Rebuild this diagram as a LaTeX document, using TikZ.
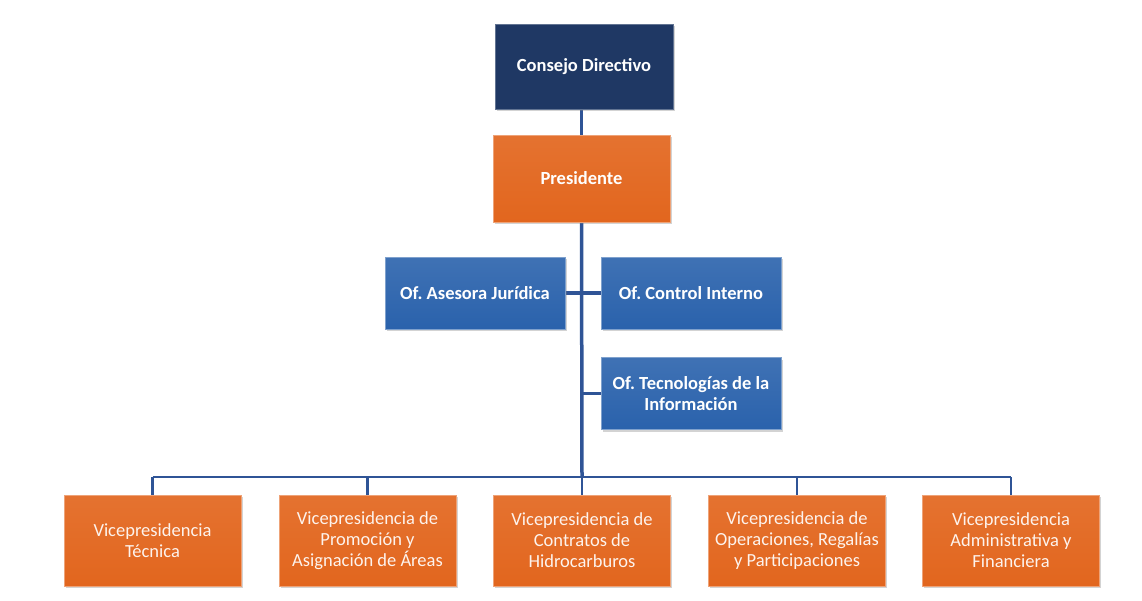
\documentclass[tikz,border=0pt]{standalone}
\usepackage{fontspec}
\setmainfont{Carlito}
\usepackage{xcolor}
\usetikzlibrary{shadows,backgrounds}

\definecolor{navy}{HTML}{1F3864}
\definecolor{naranja}{HTML}{E2661E}
\definecolor{azul}{HTML}{2A62AC}
\definecolor{linea}{HTML}{2F5496}

\begin{document}
\begin{tikzpicture}[x=1pt, y=-1pt,
    box/.style = {shape=rectangle, align=center, text=white,
      line width=0.8pt, inner sep=2pt,
      font=\fontsize{18.5}{21}\selectfont,
      drop shadow={opacity=0.35, shadow xshift=1.5pt, shadow yshift=-2pt}},
    navybox/.style = {box, font=\fontsize{18.5}{21}\selectfont\bfseries,
      fill=navy, draw=navy!70!white,
      minimum width=178pt, minimum height=85pt},
    orangebox/.style = {box, font=\fontsize{18.5}{21}\selectfont\bfseries,
      top color=naranja!92!white, bottom color=naranja, draw=naranja!60!white,
      minimum width=177pt, minimum height=87pt},
    bluebox/.style = {box, font=\fontsize{18.5}{21}\selectfont\bfseries,
      top color=azul!90!white, bottom color=azul, draw=azul!60!white,
      minimum width=180pt, minimum height=72pt},
    vicebox/.style = {box, text=white!92!naranja,
      top color=naranja!92!white, bottom color=naranja, draw=naranja!60!white,
      minimum width=177pt, minimum height=91pt},
    link/.style = {draw=linea, line width=3.5pt},
    branch/.style = {draw=linea, line width=2.5pt}]
  \useasboundingbox (0,0) rectangle (1142,600);

  % direccion
  \node[navybox] (consejo) at (584,66.5) {Consejo Directivo};
  \node[orangebox] (presidente) at (581.5,178.5) {Presidente};

  % oficinas
  \node[bluebox] (juridica) at (475,293) {Of.\ Asesora Jurídica};
  \node[bluebox] (control) at (691,293) {Of.\ Control Interno};
  \node[bluebox] (tecno) at (691,393.5) {Of.\ Tecnologías de la\\Información};

  % vicepresidencias
  \node[vicebox] (vp1) at (152.5,540.5) {Vicepresidencia\\Técnica};
  \node[vicebox] (vp2) at (367.5,540.5) {Vicepresidencia de\\Promoción y\\Asignación de Áreas};
  \node[vicebox] (vp3) at (582,540.5) {Vicepresidencia de\\Contratos de\\Hidrocarburos};
  \node[vicebox] (vp4) at (797,540.5) {Vicepresidencia de\\Operaciones, Regalías\\y Participaciones};
  \node[vicebox] (vp5) at (1011,540.5) {Vicepresidencia\\Administrativa y\\Financiera};

  \coordinate (bar) at (582,477);

  \begin{scope}[on background layer]
  \path[link] (consejo.south -| presidente.north) -- (presidente.north);
  \path[link] (presidente.south) -- (bar);
  \path[link] (juridica.east) -- (control.west);
  \path[link] (tecno.west) -- (tecno.west -| bar);
  \path[branch] (vp1.north |- bar) -- (vp5.north |- bar);
  \foreach \vp in {vp1,vp2,vp3,vp4,vp5}
    \path[branch] (\vp.north |- bar) -- (\vp.north);
  \end{scope}
\end{tikzpicture}
\end{document}
